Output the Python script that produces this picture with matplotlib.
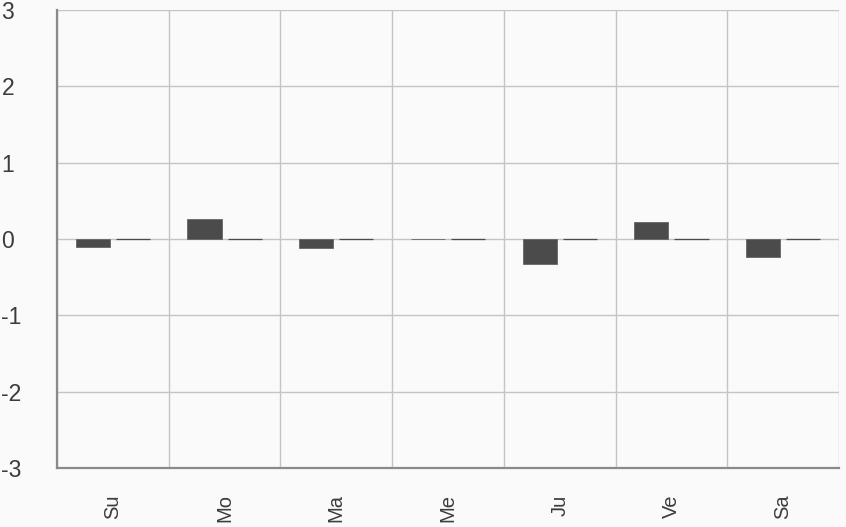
import matplotlib

matplotlib.use('Agg')

import matplotlib.pyplot as plt
import numpy as np

# 요일 라벨과 두 시리즈 값
days = ['Su', 'Mo', 'Ma', 'Me', 'Ju', 'Ve', 'Sa']
series_a = [-0.10, 0.26, -0.12, 0.0, -0.33, 0.22, -0.24]
series_b = [0.0, 0.0, 0.0, 0.0, 0.0, 0.0, 0.0]
y_ticks = [-3, -2, -1, 0, 1, 2, 3]

plt.rcParams['font.family'] = ['Liberation Sans', 'DejaVu Sans']

fig = plt.figure(figsize=(8.46, 5.27), dpi=100, facecolor='#fafafa')
ax = fig.add_axes([0.0674, 0.112, 0.9243, 0.869])
ax.set_facecolor('#fafafa')

x = np.arange(len(days))
bar_w = 0.305
off = 0.18
bar_color = '#4b4b4b'

ax.bar(x - off, series_a, width=bar_w, color=bar_color, edgecolor='#666666', linewidth=0.6, zorder=3)
ax.bar(x + off, series_b, width=bar_w, color=bar_color, edgecolor=bar_color, linewidth=0.9, zorder=3)

ax.set_xlim(-0.5, len(days) - 0.5)
ax.set_ylim(-3, 3)
ax.set_yticks(y_ticks)
ax.set_yticklabels([str(v) for v in y_ticks])
ax.set_xticks(x)
ax.set_xticklabels(days, rotation=90)

# 카테고리 경계에 세로 격자선
ax.set_xticks(np.arange(-0.5, len(days) + 0.5, 1), minor=True)
ax.grid(True, which='minor', axis='x', color='#c4c4c4', linewidth=1.0, zorder=0)
ax.grid(True, which='major', axis='y', color='#c4c4c4', linewidth=1.0, zorder=0)

ax.tick_params(axis='both', which='both', length=0)
ax.tick_params(axis='y', pad=40, labelsize=16.5, labelcolor='#3c3c3c')
ax.tick_params(axis='x', pad=19, labelsize=14.5, labelcolor='#3c3c3c')
for lab in ax.get_yticklabels():
    lab.set_horizontalalignment('left')

for side in ['top', 'right']:
    ax.spines[side].set_visible(False)
ax.spines['left'].set_color('#8a8a8a')
ax.spines['bottom'].set_color('#8a8a8a')
ax.spines['left'].set_linewidth(1.6)
ax.spines['bottom'].set_linewidth(1.6)

fig.savefig('out.png', dpi=100, facecolor=fig.get_facecolor())
